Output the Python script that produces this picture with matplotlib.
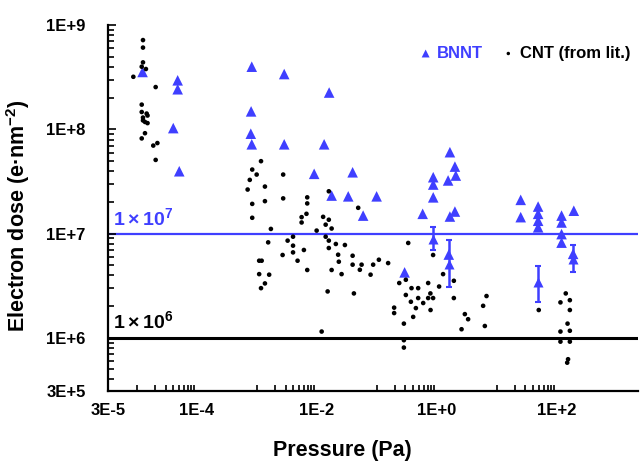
import matplotlib.pyplot as plt

# fonte parecida com Arial
plt.rcParams['font.family'] = 'Liberation Sans'
plt.rcParams['mathtext.fontset'] = 'custom'
plt.rcParams['mathtext.rm'] = 'Liberation Sans'
plt.rcParams['mathtext.bf'] = 'Liberation Sans:bold'

BLUE = '#3F3FFF'

# BNNT (sem barra de erro)
bnnt_p = [1.24e-5, 4.77e-5, 4.77e-5, 4.03e-5, 5.07e-5,
          8.2e-4, 2.85e-3, 1.6e-2, 8.0e-4, 7.9e-4, 8.2e-4, 2.85e-3, 1.32e-2, 9.0e-3,
          3.94e-2, 1.76e-2, 3.33e-2, 9.9e-2, 5.9e-2,
          1.65, 2.0, 2.07, 1.54, 0.87, 0.87, 0.87, 0.58, 2.0, 1.65, 1.58, 0.29,
          25, 25, 48.8, 48.8, 48.8, 48.8, 120, 120, 120, 120, 192, 187]
bnnt_d = [3.56e8, 2.96e8, 2.43e8, 1.03e8, 3.97e7,
          4.0e8, 3.4e8, 2.26e8, 1.49e8, 9.1e7, 7.2e7, 7.2e7, 7.2e7, 3.75e7,
          3.88e7, 2.32e7, 2.28e7, 2.28e7, 1.49e7,
          6.05e7, 4.4e7, 3.61e7, 3.24e7, 3.48e7, 2.96e7, 2.23e7, 1.55e7, 1.63e7, 1.46e7, 6.3e6, 4.25e6,
          2.11e7, 1.44e7, 1.82e7, 1.55e7, 1.33e7, 1.15e7, 1.49e7, 1.28e7, 9.9e6, 8.2e6, 1.66e7, 6.4e6]

# BNNT com barra de erro
bnnt_err_p = [0.87, 1.6, 48.8, 187]
bnnt_err_d = [8.9e6, 5.1e6, 3.4e6, 5.7e6]
bnnt_err_lo = [2.0e6, 2.0e6, 1.2e6, 1.45e6]
bnnt_err_hi = [2.6e6, 3.5e6, 1.5e6, 2.0e6]

# CNT (literatura)
cnt_p = [1.26e-5, 1.26e-5, 1.26e-5, 1.2e-5, 1.41e-5, 8.7e-6, 2.05e-5, 1.2e-5, 1.2e-5, 1.45e-5,
         1.5e-5, 1.26e-5, 1.26e-5, 1.36e-5, 1.5e-5, 1.36e-5, 1.2e-5, 1.87e-5, 2.19e-5, 2.05e-5,
         1.17e-3, 8.35e-4, 9.9e-4, 7.6e-4, 7.0e-4, 1.36e-3, 2.74e-3, 8.35e-4, 1.36e-3, 2.74e-3,
         8.35e-4, 1.71e-3, 6.9e-3, 6.9e-3, 6.7e-3, 5.56e-3, 5.56e-3, 1.58e-2, 1.27e-2, 1.58e-2,
         1.40e-2, 1.76e-2, 9.9e-3, 1.54e-3, 4.0e-3, 3.25e-3, 4.0e-3, 4.0e-3, 2.68e-3, 6.07e-3,
         4.76e-3, 6.9e-3, 1.40e-2, 1.58e-2, 1.58e-2, 2.07e-2, 2.93e-2, 2.26e-2, 2.32e-2, 1.76e-2,
         2.58e-2, 1.09e-3, 1.20e-3, 1.09e-3, 1.60e-3, 1.36e-3, 1.17e-3, 1.51e-2, 4.88e-2, 3.94e-2,
         3.94e-2, 5.56e-2, 5.2e-2, 8.67e-2, 0.108, 7.85e-2, 0.154, 0.333, 4.14e-2, 1.2e-2,
         0.236, 0.304, 0.304, 0.378, 0.488, 0.369, 0.447, 0.488, 0.592, 0.194,
         0.194, 0.403, 0.282, 0.716, 0.716, 0.866, 0.785, 0.78, 0.866, 1.27,
         1.92, 1.09, 1.92, 0.282, 0.282, 2.93, 3.32, 2.58, 6.73, 5.91, 6.31,
         50, 141, 115, 165, 165, 151, 115, 165, 115, 165, 154, 149]
cnt_d = [7.2e8, 6.1e8, 4.4e8, 4.0e8, 3.8e8, 3.2e8, 2.55e8, 1.73e8, 1.47e8, 1.42e8,
         1.36e8, 1.30e8, 1.22e8, 1.18e8, 1.15e8, 9.2e7, 8.2e7, 7.0e7, 7.4e7, 5.1e7,
         4.96e7, 4.12e7, 3.69e7, 3.28e7, 2.65e7, 2.83e7, 3.69e7, 1.93e7, 2.05e7, 2.18e7,
         1.42e7, 1.11e7, 2.23e7, 1.95e7, 1.55e7, 1.44e7, 1.28e7, 2.55e7, 1.45e7, 1.36e7,
         1.22e7, 1.12e7, 1.07e7, 8.25e6, 9.35e6, 8.57e6, 7.67e6, 6.61e6, 6.24e6, 6.97e6,
         5.5e6, 4.48e6, 9.35e6, 8.57e6, 7.28e6, 7.96e6, 7.78e6, 6.28e6, 5.38e6, 4.48e6,
         4.09e6, 5.5e6, 5.5e6, 4.09e6, 4.04e6, 3.33e6, 3.0e6, 2.79e6, 1.77e7, 6.14e6,
         5.04e6, 5.04e6, 4.5e6, 5.04e6, 5.62e6, 4.04e6, 5.22e6, 8.14e6, 2.67e6, 1.15e6,
         3.36e6, 3.61e6, 2.58e6, 3.0e6, 3.0e6, 2.22e6, 1.93e6, 2.41e6, 2.16e6, 1.95e6,
         1.73e6, 1.59e6, 1.37e6, 3.36e6, 2.41e6, 2.41e6, 1.85e6, 2.67e6, 6.24e6, 4.09e6,
         3.53e6, 3.11e6, 2.41e6, 9.5e5, 8.07e5, 1.69e6, 1.51e6, 1.21e6, 2.52e6, 2.03e6, 1.30e6,
         1.85e6, 2.67e6, 2.19e6, 2.30e6, 1.85e6, 1.37e6, 1.15e6, 1.17e6, 9.2e5, 9.2e5, 6.24e5, 5.78e5]

# linhas de referencia
dose_ref_blue = 1e7
dose_ref_black = 1e6

# eixos (limites e rotulos no estilo do Excel)
x_min, x_max = 3.29e-6, 2.24e3
y_min, y_max = 3.1e5, 1e9
x_ticks = [x_min, 1e-4, 1e-2, 1e0, 1e2]
x_labels = ['3E-5', '1E-4', '1E-2', '1E+0', '1E+2']
y_ticks = [y_min, 1e6, 1e7, 1e8, 1e9]
y_labels = ['3E+5', '1E+6', '1E+7', '1E+8', '1E+9']

fig = plt.figure(figsize=(6.41, 4.67), dpi=100)
ax = fig.add_axes([0.1685, 0.163, 0.8265, 0.783])

ax.axhline(dose_ref_blue, color=BLUE, lw=1.6, zorder=1)
ax.axhline(dose_ref_black, color='black', lw=2.2, zorder=1)

ax.errorbar(bnnt_err_p, bnnt_err_d, yerr=[bnnt_err_lo, bnnt_err_hi], fmt='^', color=BLUE,
            ms=7.5, mec='none', elinewidth=1.8, capsize=2, capthick=1.5, zorder=2)
ax.scatter(bnnt_p, bnnt_d, marker='^', s=58, color=BLUE, edgecolors='none', zorder=2, label='BNNT')
ax.scatter(cnt_p, cnt_d, marker='o', s=11, color='black', edgecolors='none', zorder=3,
           label='CNT (from lit.)')

ax.set_xscale('log')
ax.set_yscale('log')
ax.set_xlim(x_min, x_max)
ax.set_ylim(y_min, y_max)

# ticks
ax.set_xticks(x_ticks)
ax.set_xticklabels(x_labels, fontsize=12, fontweight='bold')
minor_x = [k * 10.0 ** e for e in (-5, -3, -1, 1) for k in range(1, 10)]
ax.set_xticks(minor_x, minor=True)
ax.set_xticklabels([], minor=True)
ax.set_yticks(y_ticks)
ax.set_yticklabels(y_labels, fontsize=12, fontweight='bold')
minor_y = [k * 10.0 ** e for e in (5, 6, 7, 8) for k in range(2, 10)]
ax.set_yticks([v for v in minor_y if v > y_min], minor=True)
ax.set_yticklabels([], minor=True)

ax.tick_params(axis='both', which='both', direction='in', width=1.2)
ax.tick_params(axis='x', which='major', length=0, pad=9)
ax.tick_params(axis='x', which='minor', length=4)
ax.tick_params(axis='y', which='major', length=6, pad=16)
ax.tick_params(axis='y', which='minor', length=4)

for s in ['top', 'right']:
    ax.spines[s].set_visible(False)
for s in ['left', 'bottom']:
    ax.spines[s].set_linewidth(1.6)

ax.set_xlabel('Pressure (Pa)', fontsize=15.5, fontweight='bold')
ax.xaxis.set_label_coords(0.443, -0.135)
ax.set_ylabel('Electron dose (e·nm$^{\\mathbf{-2}}$)', fontsize=15.5, fontweight='bold')
ax.yaxis.set_label_coords(-0.143, 0.48)

ax.text(0.009, 0.443, '$\\mathbf{1 \\times 10^{7}}$', transform=ax.transAxes, color=BLUE,
        fontsize=14, va='bottom', ha='left')
ax.text(0.009, 0.16, '$\\mathbf{1 \\times 10^{6}}$', transform=ax.transAxes, color='black',
        fontsize=14, va='bottom', ha='left')

leg = ax.legend(ncol=2, loc='center', bbox_to_anchor=(0.785, 0.923), frameon=False,
                prop={'size': 12, 'weight': 'bold'}, labelcolor=[BLUE, 'black'],
                handletextpad=0.2, columnspacing=1.0, handlelength=1.0, markerscale=0.75)

plt.savefig('out.png', dpi=100)
